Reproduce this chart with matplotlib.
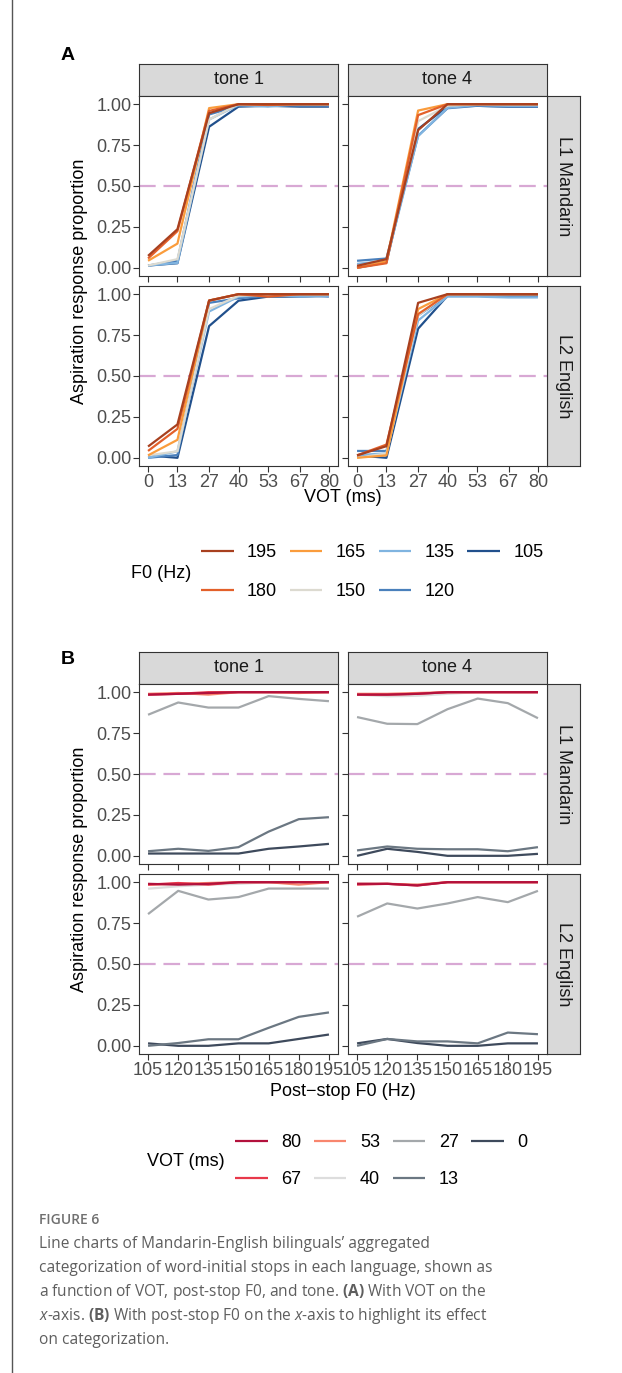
import numpy as np
import matplotlib
matplotlib.use("Agg")
import matplotlib.pyplot as plt
from matplotlib.lines import Line2D

plt.rcParams['font.family'] = ['Liberation Sans', 'DejaVu Sans']
plt.rcParams['mathtext.fontset'] = 'custom'
plt.rcParams['mathtext.rm'] = 'Open Sans'
plt.rcParams['mathtext.it'] = 'Open Sans:italic'
plt.rcParams['mathtext.bf'] = 'Open Sans:bold'

#--------------------------------------
# data: rows = VOT steps, columns = post-stop F0 steps
vot = [0, 13, 27, 40, 53, 67, 80]
f0 = [105, 120, 135, 150, 165, 180, 195]
langs = ['L1 Mandarin', 'L2 English']
tones = ['tone 1', 'tone 4']

l1_tone1 = [[0.014, 0.014, 0.014, 0.014, 0.043, 0.057, 0.073],
            [0.028, 0.043, 0.030, 0.053, 0.148, 0.224, 0.236],
            [0.862, 0.937, 0.906, 0.906, 0.976, 0.959, 0.945],
            [0.985, 0.990, 0.995, 1.000, 1.000, 1.000, 1.000],
            [0.990, 0.995, 0.985, 1.000, 1.000, 0.995, 1.000],
            [0.985, 0.990, 1.000, 1.000, 1.000, 1.000, 1.000],
            [0.985, 0.990, 0.995, 1.000, 1.000, 1.000, 1.000]]
l1_tone4 = [[0.000, 0.043, 0.024, 0.000, 0.000, 0.000, 0.012],
            [0.033, 0.057, 0.043, 0.040, 0.040, 0.028, 0.053],
            [0.848, 0.807, 0.805, 0.896, 0.961, 0.933, 0.841],
            [0.985, 0.975, 0.978, 0.990, 1.000, 1.000, 1.000],
            [0.990, 0.990, 0.995, 1.000, 1.000, 1.000, 1.000],
            [0.985, 0.985, 0.990, 1.000, 1.000, 1.000, 1.000],
            [0.985, 0.985, 0.990, 1.000, 1.000, 1.000, 1.000]]
l2_tone1 = [[0.015, 0.000, 0.000, 0.015, 0.015, 0.042, 0.069],
            [0.000, 0.017, 0.040, 0.040, 0.110, 0.177, 0.204],
            [0.805, 0.947, 0.894, 0.909, 0.961, 0.961, 0.961],
            [0.960, 0.975, 0.985, 0.990, 1.000, 1.000, 1.000],
            [0.985, 0.990, 0.995, 1.000, 1.000, 0.985, 1.000],
            [0.985, 0.995, 0.985, 1.000, 1.000, 1.000, 1.000],
            [0.990, 0.985, 0.990, 1.000, 1.000, 1.000, 1.000]]
l2_tone4 = [[0.015, 0.042, 0.017, 0.000, 0.000, 0.015, 0.015],
            [0.000, 0.042, 0.027, 0.027, 0.015, 0.081, 0.071],
            [0.789, 0.870, 0.839, 0.870, 0.909, 0.878, 0.947],
            [0.990, 0.990, 0.985, 1.000, 1.000, 1.000, 1.000],
            [0.990, 0.990, 0.985, 1.000, 1.000, 1.000, 1.000],
            [0.985, 0.990, 0.980, 1.000, 1.000, 1.000, 1.000],
            [0.990, 0.990, 0.980, 1.000, 1.000, 1.000, 1.000]]
data = {('L1 Mandarin', 'tone 1'): np.array(l1_tone1),
        ('L1 Mandarin', 'tone 4'): np.array(l1_tone4),
        ('L2 English', 'tone 1'): np.array(l2_tone1),
        ('L2 English', 'tone 4'): np.array(l2_tone4)}

f0_colors = ['#21508c', '#4a80bc', '#80b4e0', '#dcdad0', '#fa9c3c', '#e3602a', '#a8401f']
vot_colors = ['#3e4a5c', '#6b7782', '#a4a8ab', '#dddddd', '#f8866e', '#e8384a', '#b3113c']

#--------------------------------------
W, H = 622, 1373
fig = plt.figure(figsize=(W / 100, H / 100), dpi=100)
fs = 13
dark = '#333333'

def box(x0, y0, x1, y1):
    return [x0 / W, 1 - y1 / H, (x1 - x0) / W, (y1 - y0) / H]

cols_x = [(139, 338), (348, 547)]

def strip(rect, label, rot=0):
    s = fig.add_axes(box(*rect))
    s.set_facecolor('#d9d9d9')
    s.set_xticks([])
    s.set_yticks([])
    for sp in s.spines.values():
        sp.set_color(dark)
        sp.set_linewidth(0.8)
    s.text(0.5, 0.5, label, ha='center', va='center', rotation=rot,
           fontsize=fs, color='#1a1a1a', transform=s.transAxes)

def block(rows_y, strip_y, xvals, xlim, xticks, by_f0, colors, tag, tag_y, xlabel, xlabel_y):
    handles = None
    for ci, tone in enumerate(tones):
        strip((cols_x[ci][0], strip_y[0], cols_x[ci][1], strip_y[1]), tone)
    for ri, lang in enumerate(langs):
        strip((547, rows_y[ri][0], 580, rows_y[ri][1]), lang, rot=-90)
        for ci, tone in enumerate(tones):
            ax = fig.add_axes(box(cols_x[ci][0], rows_y[ri][0], cols_x[ci][1], rows_y[ri][1]))
            m = data[(lang, tone)]
            lines = []
            for k in range(7):
                yv = m[:, k] if by_f0 else m[k, :]
                ln, = ax.plot(xvals, yv, color=colors[k], lw=1.6, solid_capstyle='butt')
                lines.append(ln)
            ax.axhline(0.5, color='#d8a8d4', lw=1.6, ls=(0, (7.5, 3.5)), zorder=0)
            ax.set_xlim(*xlim)
            ax.set_ylim(-0.05, 1.05)
            ax.set_yticks([0, 0.25, 0.5, 0.75, 1.0])
            ax.set_xticks(xticks)
            ax.tick_params(length=4, width=0.8, color=dark, labelsize=fs,
                           labelcolor='#4d4d4d', pad=1.5)
            if ci == 0:
                ax.set_yticklabels(['0.00', '0.25', '0.50', '0.75', '1.00'])
            else:
                ax.set_yticklabels([])
            if ri == 0:
                ax.set_xticklabels([])
            for sp in ax.spines.values():
                sp.set_color(dark)
                sp.set_linewidth(0.8)
            if handles is None:
                handles = lines
    fig.text(61 / W, 1 - tag_y / H, tag, fontsize=14, fontweight='bold',
             ha='left', va='center')
    fig.text(79 / W, 1 - (rows_y[0][0] + rows_y[1][1]) / 2 / H,
             'Aspiration response proportion', rotation=90, fontsize=fs,
             ha='center', va='center')
    fig.text(343 / W, 1 - xlabel_y / H, xlabel, fontsize=fs, ha='center', va='center')
    return handles

# panel A: VOT on x, one line per F0
hA = block([(96, 276), (286, 466)], (64, 96), vot, (-4, 84), vot, True,
           f0_colors, 'A', 55, 'VOT (ms)', 498)
# panel B: post-stop F0 on x, one line per VOT
hB = block([(684, 864), (874, 1054)], (652, 684), f0, (100.5, 199.5), f0, False,
           vot_colors, 'B', 660, 'Post\u2212stop F0 (Hz)', 1091)

#--------------------------------------
# legends (title on the left, entries filled by column)
fig.text(131 / W, 1 - 573 / H, 'F0 (Hz)', fontsize=fs, ha='left', va='center')
fig.legend(hA[::-1], [str(v) for v in f0[::-1]], loc='center left',
           bbox_to_anchor=(201 / W, 1 - 572 / H), ncol=4, frameon=False,
           fontsize=fs, handlelength=1.8, handletextpad=0.75, columnspacing=0.7,
           labelspacing=1.2, borderpad=0, borderaxespad=0)

fig.text(147 / W, 1 - 1162 / H, 'VOT (ms)', fontsize=fs, ha='left', va='center')
fig.legend(hB[::-1], [str(v) for v in vot[::-1]], loc='center left',
           bbox_to_anchor=(235 / W, 1 - 1161 / H), ncol=4, frameon=False,
           fontsize=fs, handlelength=1.8, handletextpad=0.75, columnspacing=0.7,
           labelspacing=1.1, borderpad=0, borderaxespad=0)

#--------------------------------------
# caption
cap_font = ['Open Sans', 'DejaVu Sans']
fig.text(39 / W, 1 - 1220 / H, 'FIGURE 6', fontsize=10, fontweight='semibold',
         color='#707070', family=cap_font, ha='left', va='center')
caption = ['Line charts of Mandarin-English bilinguals\u2019 aggregated',
           'categorization of word-initial stops in each language, shown as',
           r'a function of VOT, post-stop F0, and tone. $\mathbf{(A)}$ With VOT on the',
           r'$\mathit{x}$-axis. $\mathbf{(B)}$ With post-stop F0 on the $\mathit{x}$-axis to highlight its effect',
           'on categorization.']
for i, line in enumerate(caption):
    fig.text(39 / W, 1 - (1244 + 24 * i) / H, line, fontsize=11.2, color='#5e5e5e',
             family=cap_font, ha='left', va='center')

# page border on the left
fig.add_artist(Line2D([12 / W, 12 / W], [0, 1], color='#555555', lw=1.0))

fig.savefig('out.png', dpi=100)
